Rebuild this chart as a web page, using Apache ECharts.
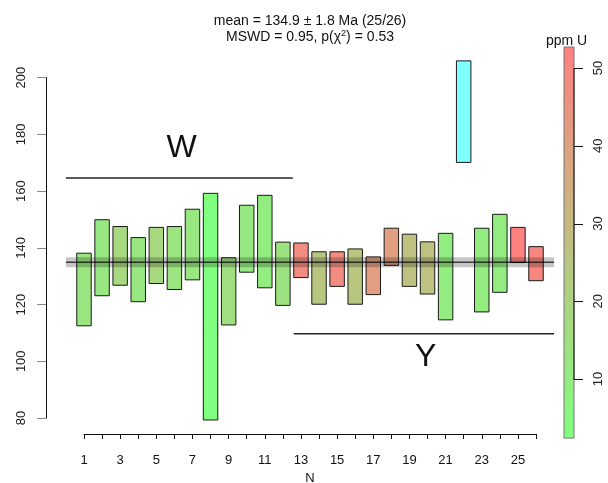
<!DOCTYPE html>
<html>
<head>
<meta charset="utf-8">
<script src="https://cdn.jsdelivr.net/npm/echarts@6/dist/echarts.min.js"></script>
<style>
  html, body { margin: 0; padding: 0; background: #fff; }
  #chart { width: 608px; height: 483px; }
</style>
</head>
<body>
<div id="chart"></div>
<script>
// Aliquot number, age interval (Ma) and uranium content (ppm)
const aliquots = [1, 2, 3, 4, 5, 6, 7, 8, 9, 10, 11, 12, 13, 14, 15, 16, 17, 18, 19, 20, 21, 22, 23, 24, 25, 26];
const ageLower = [112.5, 123.1, 126.8, 121.0, 127.4, 125.3, 128.7, 79.3, 112.8, 131.4, 125.9, 119.7, 129.5,
                  120.1, 126.4, 120.1, 123.5, 133.8, 126.4, 123.7, 114.6, 170.1, 117.4, 124.3, 134.8, 128.4];
const ageUpper = [138.1, 149.9, 147.5, 143.6, 147.2, 147.5, 153.6, 159.2, 136.5, 155.0, 158.5, 142.0, 141.7,
                  138.6, 138.6, 139.6, 136.8, 146.9, 144.8, 142.1, 145.1, 205.9, 146.9, 151.8, 147.2, 140.4];
const ppmU     = [12.5, 11.5, 17.5, 12.0, 18.0, 13.0, 12.0, 2.5, 15.0, 11.0, 10.0, 14.0, 48.0,
                  25.0, 48.0, 25.0, 41.0, 41.0, 27.0, 27.0, 10.0, 30.0, 10.0, 10.0, 52.0, 50.0];
const rejected = [22];

// Weighted mean result
const meanAge = 134.9;
const meanErr = 1.8;
const xSpan = [0, 27];

// Grouping annotations
const groupNames = ['W', 'Y'];
const groupFrom  = [0, 12.6];
const groupTo    = [12.55, 27];
const groupLevel = [164.6, 109.7];
const groupTextX = [6.4, 19.9];
const groupTextY = [175.2, 101.5];

// Axis ticks
const ageTicks = [80, 100, 120, 140, 160, 180, 200];
const nTicks = aliquots;
const uTicks = [10, 20, 30, 40, 50];
const uRange = [2.4, 52.7];
const uColors = ['#80FF80', '#FF8080'];

const accepted = [], rejectedRows = [];
aliquots.forEach((n, i) => {
  const row = [n, ageLower[i], ageUpper[i], ppmU[i]];
  (rejected.includes(n) ? rejectedRows : accepted).push(row);
});

function barItem(params, api, fill) {
  const x = api.value(0);
  const p1 = api.coord([x - 0.4, api.value(2)]);
  const p2 = api.coord([x + 0.4, api.value(1)]);
  return {
    type: 'rect',
    shape: { x: p1[0], y: p1[1], width: p2[0] - p1[0], height: p2[1] - p1[1] },
    style: { fill: fill || api.visual('color'), stroke: '#1a1a1a', lineWidth: 1 }
  };
}

const font = '"Liberation Sans", Arial, Helvetica, sans-serif';
const chart = echarts.init(document.getElementById('chart'), null, { renderer: 'canvas' });

chart.setOption({
  animation: false,
  backgroundColor: '#fff',
  textStyle: { fontFamily: font },
  title: {
    text: 'mean = 134.9 ± 1.8 Ma (25/26)\n{t|MSWD = 0.95, p(χ}{s|2}{t|) = 0.53}',
    left: 305, top: 8, textAlign: 'center',
    textStyle: {
      fontFamily: font, fontSize: 14, fontWeight: 'normal', color: '#111', lineHeight: 16,
      rich: {
        t: { fontFamily: font, fontSize: 14, color: '#111', lineHeight: 16 },
        s: { fontFamily: font, fontSize: 9, color: '#111', verticalAlign: 'top', lineHeight: 12, padding: [0, 0, 6, 0] }
      }
    }
  },
  grid: [
    { left: 84, right: 72, top: 77.6, bottom: 65, outerBoundsMode: 'none', containLabel: false },
    { left: 564, width: 20, top: 68, height: 311, outerBoundsMode: 'none', containLabel: false }
  ],
  xAxis: [{
    type: 'value', gridIndex: 0, min: 1, max: 26, interval: 1, offset: 16,
    name: 'N', nameLocation: 'middle', nameGap: 38,
    nameTextStyle: { fontFamily: font, fontSize: 13, color: '#111' },
    splitLine: { show: false },
    axisLine: { show: true, onZero: false, lineStyle: { color: '#111', width: 1 } },
    axisTick: { show: true, length: 5, lineStyle: { color: '#111' } },
    axisLabel: {
      fontFamily: font, fontSize: 13, color: '#111', margin: 20,
      formatter: v => (nTicks.includes(v) && v % 2 === 1) ? String(v) : ''
    }
  }, {
    type: 'value', gridIndex: 1, min: 0, max: 2, show: false
  }],
  yAxis: [{
    type: 'value', gridIndex: 0, min: ageTicks[0], max: ageTicks[ageTicks.length - 1], interval: 20, offset: 38,
    splitLine: { show: false },
    axisLine: { show: true, onZero: false, lineStyle: { color: '#111', width: 1 } },
    axisTick: { show: true, length: 9, lineStyle: { color: '#888' } },
    axisLabel: { fontFamily: font, fontSize: 13, color: '#222', rotate: 90, margin: 18 }
  }, {
    type: 'value', gridIndex: 1, position: 'right',
    min: uTicks[0], max: uTicks[uTicks.length - 1], interval: 10,
    splitLine: { show: false },
    axisLine: { show: false },
    axisTick: { show: false },
    axisLabel: { fontFamily: font, fontSize: 13, color: '#222', rotate: 90, margin: 8 }
  }],
  visualMap: {
    show: false,
    type: 'continuous', seriesIndex: 0, dimension: 3,
    min: uRange[0], max: uRange[1],
    inRange: { color: uColors }
  },
  graphic: [{
    type: 'text', left: 546, top: 34, z: 10,
    style: { text: 'ppm U', fontFamily: font, fontSize: 14, fill: '#111' }
  }],
  series: [{
    name: 'accepted',
    type: 'custom', xAxisIndex: 0, yAxisIndex: 0, clip: false,
    encode: { x: 0, y: [1, 2] },
    data: accepted,
    renderItem: (p, api) => barItem(p, api)
  }, {
    name: 'rejected',
    type: 'custom', xAxisIndex: 0, yAxisIndex: 0, clip: false,
    encode: { x: 0, y: [1, 2] },
    data: rejectedRows,
    renderItem: (p, api) => barItem(p, api, '#80FFFF')
  }, {
    name: 'mean',
    type: 'custom', xAxisIndex: 0, yAxisIndex: 0, clip: false, z: 5,
    data: [[xSpan[0], xSpan[1], meanAge - meanErr, meanAge + meanErr, meanAge]],
    renderItem: (p, api) => {
      const a = api.coord([api.value(0), api.value(3)]);
      const b = api.coord([api.value(1), api.value(2)]);
      const m0 = api.coord([api.value(0), api.value(4)]);
      const m1 = api.coord([api.value(1), api.value(4)]);
      return {
        type: 'group',
        children: [{
          type: 'rect',
          shape: { x: a[0], y: a[1], width: b[0] - a[0], height: b[1] - a[1] },
          style: { fill: 'rgba(0,0,0,0.22)' }
        }, {
          type: 'line',
          shape: { x1: m0[0], y1: m0[1], x2: m1[0], y2: m1[1] },
          style: { stroke: 'rgba(0,0,0,0.7)', lineWidth: 1.5 }
        }]
      };
    }
  }, {
    name: 'groups',
    type: 'custom', xAxisIndex: 0, yAxisIndex: 0, clip: false,
    data: groupNames.map((g, i) => [groupFrom[i], groupTo[i], groupLevel[i], groupTextX[i], groupTextY[i]]),
    renderItem: (p, api) => {
      const a = api.coord([api.value(0), api.value(2)]);
      const b = api.coord([api.value(1), api.value(2)]);
      const t = api.coord([api.value(3), api.value(4)]);
      return {
        type: 'group',
        children: [{
          type: 'line',
          shape: { x1: a[0], y1: a[1], x2: b[0], y2: b[1] },
          style: { stroke: '#222', lineWidth: 1.5 }
        }, {
          type: 'text',
          x: t[0], y: t[1],
          style: {
            text: groupNames[p.dataIndex], fontFamily: font, fontSize: 32, fill: '#111',
            align: 'center', verticalAlign: 'middle'
          }
        }]
      };
    }
  }, {
    // colour scale for uranium content
    name: 'colourbar',
    type: 'custom', xAxisIndex: 1, yAxisIndex: 1, clip: false, z: 1,
    data: [[0, 1, uRange[0], uRange[1]]],
    renderItem: (p, api) => {
      const a = api.coord([api.value(0), api.value(3)]);
      const b = api.coord([api.value(1), api.value(2)]);
      return {
        type: 'rect',
        shape: { x: a[0], y: a[1], width: b[0] - a[0], height: b[1] - a[1] },
        style: {
          fill: new echarts.graphic.LinearGradient(0, 0, 0, 1, [
            { offset: 0, color: uColors[1] }, { offset: 1, color: uColors[0] }
          ]),
          stroke: '#777', lineWidth: 1
        }
      };
    }
  }, {
    // axis spine and tick marks of the colour scale, one item per tick value
    name: 'colourbarTicks',
    type: 'custom', xAxisIndex: 1, yAxisIndex: 1, clip: false, z: 3,
    data: uTicks.map((t, i) => [1, t, i]),
    renderItem: (p, api) => {
      const c0 = api.coord([1, api.value(1)]);
      const c1 = api.coord([1.9, api.value(1)]);
      const children = [{
        type: 'rect',
        shape: { x: c0[0], y: Math.round(c0[1]), width: c1[0] - c0[0], height: 1 },
        style: { fill: '#111' }
      }];
      if (p.dataIndex === 0) {
        const top = api.coord([1, uTicks[uTicks.length - 1]]);
        children.push({
          type: 'rect',
          shape: { x: Math.round(c0[0]) - 0.5, y: top[1], width: 1, height: c0[1] - top[1] + 1 },
          style: { fill: '#111' }
        });
      }
      return { type: 'group', children };
    }
  }]
});
</script>
</body>
</html>
